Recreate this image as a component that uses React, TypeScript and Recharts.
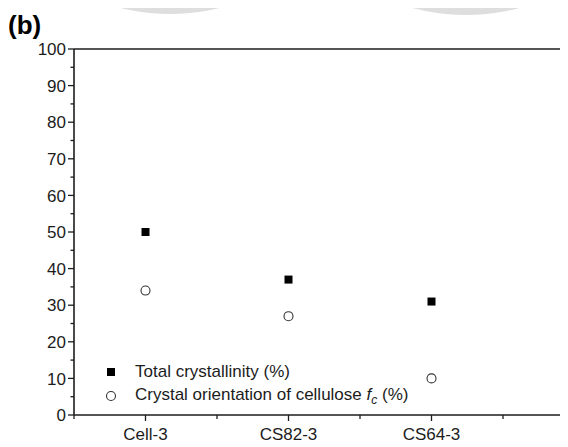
import * as React from "react"
import { ScatterChart, Scatter, XAxis, YAxis, ReferenceLine } from "recharts"

const categories = ["Cell-3", "CS82-3", "CS64-3"]
const crystallinity = [50, 37, 31]
const orientation = [34, 27, 10]
const xTicks = [0.5, 1, 1.5, 2, 2.5, 3, 3.5, 4, 4.5]
const yTicks = [0, 5, 10, 15, 20, 25, 30, 35, 40, 45, 50, 55, 60, 65, 70, 75, 80, 85, 90, 95, 100]

const FONT = "'Liberation Sans', Arial, sans-serif"
const INK = "#1c1c1c"
const FS = 17

const crystData = categories.map((c, i) => ({ x: i + 1, y: crystallinity[i], name: c }))
const orientData = categories.map((c, i) => ({ x: i + 1, y: orientation[i], name: c }))

const SquareDot = (props: any) => {
    const { cx, cy } = props
    return <rect x={cx - 4} y={cy - 4} width={8} height={8} fill="#000" />
}

const CircleDot = (props: any) => {
    const { cx, cy } = props
    return <circle cx={cx} cy={cy} r={4.5} fill="#fff" stroke="#333" strokeWidth={1.1} />
}

const YTick = ({ x, y, payload }: any) => {
    const major = payload.value % 10 === 0
    return (
        <g>
            <line x1={x} x2={x - (major ? 6 : 3.5)} y1={y} y2={y} stroke={INK} strokeWidth={1.3} />
            {major && (
                <text x={x - 8} y={y} dy="0.36em" textAnchor="end" fontSize={FS} fill={INK} fontFamily={FONT}>
                    {payload.value}
                </text>
            )}
        </g>
    )
}

const XTick = ({ x, y, payload }: any) => {
    const major = Number.isInteger(payload.value)
    const label = major ? categories[payload.value - 1] : undefined
    return (
        <g>
            <line x1={x} x2={x} y1={y} y2={y + (major ? 6 : 4)} stroke={INK} strokeWidth={1.3} />
            {label && (
                <text x={x} y={y + 25} textAnchor="middle" fontSize={FS} fill={INK} fontFamily={FONT}>
                    {label}
                </text>
            )}
        </g>
    )
}

// legend drawn as an overlay so it doesn't shrink the plot area
const LegendBox = () => (
    <div style={{ position: "absolute", left: 95, top: 352, fontFamily: FONT, fontSize: FS, color: INK }}>
        <div style={{ display: "flex", alignItems: "center", height: 24 }}>
            <svg width={16} height={16} style={{ marginRight: 16 }}>
                <rect x={4} y={4} width={8} height={8} fill="#000" />
            </svg>
            <span>Total crystallinity (%)</span>
        </div>
        <div style={{ display: "flex", alignItems: "center", height: 24 }}>
            <svg width={16} height={16} style={{ marginRight: 16 }}>
                <circle cx={8} cy={8} r={4.5} fill="#fff" stroke="#333" strokeWidth={1.1} />
            </svg>
            <span>
                Crystal orientation of cellulose <i>f</i>
                <sub style={{ fontStyle: "italic", fontSize: 12 }}>c</sub> (%)
            </span>
        </div>
    </div>
)

export default function App() {
    return (
        <div style={{ position: "relative", width: 560, height: 439, overflow: "hidden", background: "#fff" }}>
            <svg width={560} height={20} style={{ position: "absolute", left: 0, top: -8 }}>
                <circle cx={162} cy={-194} r={208} fill="#dedede" />
                <circle cx={458} cy={-193} r={208} fill="#dedede" />
            </svg>
            <div
                style={{
                    position: "absolute",
                    left: 0,
                    top: 2,
                    fontFamily: FONT,
                    fontWeight: "bold",
                    fontSize: 26,
                    color: "#000",
                }}
            >
                (b)
            </div>
            <ScatterChart width={660} height={439} margin={{ top: 41, right: 22, bottom: 0, left: 0 }}>
                <XAxis
                    type="number"
                    dataKey="x"
                    domain={[0.5, 4.5]}
                    ticks={xTicks}
                    interval={0}
                    tickSize={0}
                    tickMargin={0}
                    tick={<XTick />}
                    height={32}
                    axisLine={{ stroke: INK, strokeWidth: 1.6 }}
                    allowDataOverflow
                />
                <YAxis
                    type="number"
                    dataKey="y"
                    domain={[0, 100]}
                    ticks={yTicks}
                    interval={0}
                    tickSize={0}
                    tickMargin={0}
                    tick={<YTick />}
                    width={66}
                    axisLine={{ stroke: INK, strokeWidth: 1.6 }}
                />
                <ReferenceLine y={100} stroke={INK} strokeWidth={1.6} />
                <Scatter name="Total crystallinity (%)" data={crystData} shape={<SquareDot />} isAnimationActive={false} />
                <Scatter name="Crystal orientation of cellulose fc (%)" data={orientData} shape={<CircleDot />} isAnimationActive={false} />
            </ScatterChart>
            <LegendBox />
        </div>
    )
}
